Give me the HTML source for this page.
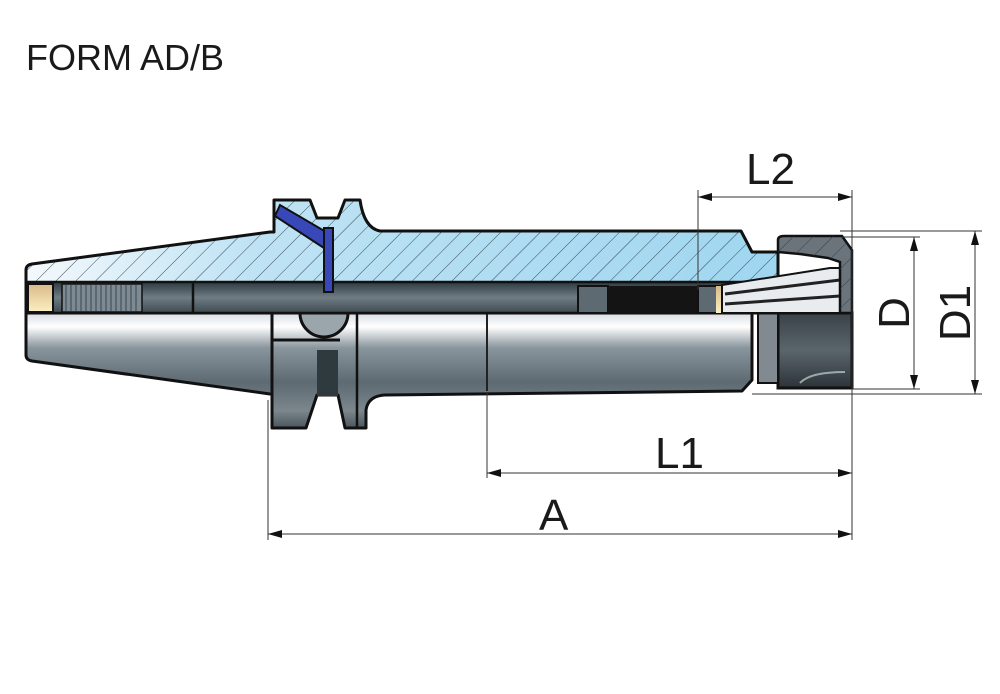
<!DOCTYPE html>
<html><head><meta charset="utf-8"><style>
html,body{margin:0;padding:0;background:#fff;}
svg{display:block;}
text{font-family:"Liberation Sans",Arial,sans-serif;fill:#1a1a1a;}
</style></head><body>
<svg width="1000" height="694" viewBox="0 0 1000 694" xmlns="http://www.w3.org/2000/svg">
<defs>
<linearGradient id="blue" x1="0" x2="1" y1="0" y2="0">
<stop offset="0" stop-color="#f4f9fc"/><stop offset="0.3" stop-color="#bfe3f4"/><stop offset="1" stop-color="#9fd6f0"/>
</linearGradient>
<pattern id="hatch" width="14" height="14" patternUnits="userSpaceOnUse" patternTransform="rotate(45)">
<line x1="0" y1="0" x2="0" y2="14" stroke="#2a3a48" stroke-width="0.9"/>
</pattern>
<linearGradient id="steel" x1="0" x2="0" y1="0" y2="1">
<stop offset="0" stop-color="#d8dde2"/><stop offset="0.12" stop-color="#ffffff"/><stop offset="0.3" stop-color="#8a969e"/><stop offset="0.6" stop-color="#5d6a72"/><stop offset="0.85" stop-color="#7b868d"/><stop offset="1" stop-color="#4a555c"/>
</linearGradient>
<linearGradient id="bore" x1="0" x2="0" y1="0" y2="1">
<stop offset="0" stop-color="#2e3a40"/><stop offset="0.5" stop-color="#6f7c84"/><stop offset="1" stop-color="#3e4a50"/>
</linearGradient>
<linearGradient id="nut" x1="0" x2="0" y1="0" y2="1">
<stop offset="0" stop-color="#3a4248"/><stop offset="0.5" stop-color="#5a656c"/><stop offset="1" stop-color="#2c3338"/>
</linearGradient>
<linearGradient id="brass" x1="0" x2="0" y1="0" y2="1">
<stop offset="0" stop-color="#d9b98a"/><stop offset="1" stop-color="#fbf0c0"/>
</linearGradient>
</defs>

<text x="26" y="70" font-size="36">FORM AD/B</text>

<!-- lower half (steel) -->
<path d="M26 313 L26 355 Q26 360 32 361 L270 394 L272 394 L272 428 L306 428 L317 395 L338 395 L345 428 L366 428 L366 410 Q368 396 385 395 L742 391 L752 380 L752 313 Z" fill="url(#steel)" stroke="#111" stroke-width="3" stroke-linejoin="round"/>
<line x1="487" y1="313" x2="487" y2="391" stroke="#222" stroke-width="2"/>
<line x1="272" y1="313" x2="272" y2="394" stroke="#111" stroke-width="3"/>
<line x1="357" y1="313" x2="357" y2="428" stroke="#111" stroke-width="2.5"/>
<rect x="317" y="350" width="21" height="46" fill="#2e3a3e"/>
<path d="M300 313 A24 24 0 0 0 348 313" fill="#9aa5ac" stroke="#111" stroke-width="3"/>
<line x1="272" y1="340" x2="340" y2="340" stroke="#111" stroke-width="3"/>

<!-- collet / nut lower -->
<path d="M752 313 L778 313 L778 388 L852 388 L852 313 Z" fill="url(#nut)" stroke="#111" stroke-width="3"/>
<rect x="758" y="313" width="20" height="70" fill="#808a90" stroke="#111" stroke-width="2"/>
<path d="M800 383 Q810 372 845 372" fill="none" stroke="#9aa" stroke-width="2"/>

<!-- upper section (blue hatched) -->
<path d="M26 313 L26 270 Q26 265 32 264 L270 232 L274 232 L274 200 L310 200 L317 218 L338 218 L345 200 L360 200 Q364 228 380 231 L741 231 L752 252 L778 252 L778 313 Z" fill="url(#blue)" stroke="none"/>
<path d="M26 313 L26 270 Q26 265 32 264 L270 232 L274 232 L274 200 L310 200 L317 218 L338 218 L345 200 L360 200 Q364 228 380 231 L741 231 L752 252 L778 252 L778 313 Z" fill="url(#hatch)" stroke="#111" stroke-width="3" stroke-linejoin="round"/>
<!-- bore -->
<rect x="26" y="282" width="752" height="31" fill="url(#bore)" stroke="#111" stroke-width="2.5"/>
<rect x="28" y="284" width="25" height="28" fill="url(#brass)" stroke="#111" stroke-width="2"/>
<rect x="62" y="284" width="80" height="28" fill="#7d8a92" stroke="#111" stroke-width="1.5"/>
<g stroke="#3a4750" stroke-width="1">
<line x1="66" y1="285" x2="66" y2="311"/><line x1="71" y1="285" x2="71" y2="311"/><line x1="76" y1="285" x2="76" y2="311"/><line x1="81" y1="285" x2="81" y2="311"/><line x1="86" y1="285" x2="86" y2="311"/><line x1="91" y1="285" x2="91" y2="311"/><line x1="96" y1="285" x2="96" y2="311"/><line x1="101" y1="285" x2="101" y2="311"/><line x1="106" y1="285" x2="106" y2="311"/><line x1="111" y1="285" x2="111" y2="311"/><line x1="116" y1="285" x2="116" y2="311"/><line x1="121" y1="285" x2="121" y2="311"/><line x1="126" y1="285" x2="126" y2="311"/><line x1="131" y1="285" x2="131" y2="311"/><line x1="136" y1="285" x2="136" y2="311"/>
</g>
<line x1="193" y1="282" x2="193" y2="313" stroke="#111" stroke-width="2.5"/>
<rect x="578" y="286" width="30" height="27" fill="#5d6a72" stroke="#111" stroke-width="2"/>
<rect x="608" y="286" width="90" height="27" fill="#141414"/>
<rect x="698" y="286" width="22" height="27" fill="#5d6a72" stroke="#111" stroke-width="2"/>
<rect x="716" y="286" width="6" height="27" fill="url(#brass)"/>
<!-- collet upper -->
<path d="M722 285 L830 268 L840 268 L840 313 L722 313 Z" fill="#e8ecef" stroke="#111" stroke-width="2"/>
<g stroke="#222" stroke-width="3"><line x1="725" y1="294" x2="840" y2="280"/><line x1="725" y1="304" x2="840" y2="296"/></g>
<!-- nut upper -->
<path d="M778 252 L778 240 Q778 236 784 236 L842 236 L852 250 L852 313 L840 313 L840 262 L828 258 L800 254 Z" fill="#6a747a" stroke="#111" stroke-width="2.5"/>
<path d="M778 252 L778 240 Q778 236 784 236 L842 236 L852 250 L852 313 L840 313 L840 262 L828 258 L800 254 Z" fill="url(#hatch)"/>
<!-- blue pins -->
<path d="M275 216 L280 205 L333 236 L327 250 Z" fill="#3848b8" stroke="#111" stroke-width="2"/>
<rect x="324" y="228" width="9" height="64" fill="#3848b8" stroke="#111" stroke-width="2"/>

<!-- dimension lines -->
<g stroke="#333" stroke-width="1" fill="none">
<line x1="698" y1="190" x2="698" y2="290"/>
<line x1="852" y1="190" x2="852" y2="540"/>
<line x1="268" y1="400" x2="268" y2="540"/>
<line x1="487" y1="392" x2="487" y2="478"/>
<line x1="840" y1="231" x2="982" y2="231"/>
<line x1="842" y1="237" x2="920" y2="237"/>
<line x1="852" y1="389" x2="920" y2="389"/>
<line x1="752" y1="394" x2="982" y2="394"/>
<line x1="698" y1="197" x2="852" y2="197"/>
<line x1="487" y1="473" x2="852" y2="473"/>
<line x1="268" y1="534" x2="852" y2="534"/>
<line x1="914" y1="237" x2="914" y2="389"/>
<line x1="975" y1="231" x2="975" y2="394"/>
</g>
<g fill="#111">
<path d="M698 197 l14 -4 v8 z"/><path d="M852 197 l-14 -4 v8 z"/>
<path d="M487 473 l14 -4 v8 z"/><path d="M852 473 l-14 -4 v8 z"/>
<path d="M268 534 l14 -4 v8 z"/><path d="M852 534 l-14 -4 v8 z"/>
<path d="M914 237 l-4 14 h8 z"/><path d="M914 389 l-4 -14 h8 z"/>
<path d="M975 231 l-4 14 h8 z"/><path d="M975 394 l-4 -14 h8 z"/>
</g>
<text x="746" y="184" font-size="44">L2</text>
<text x="655" y="468" font-size="44">L1</text>
<text x="539" y="530" font-size="44">A</text>
<text transform="translate(909,313) rotate(-90)" font-size="44" text-anchor="middle">D</text>
<text transform="translate(970,313) rotate(-90)" font-size="44" text-anchor="middle">D1</text>
</svg>
</body></html>
